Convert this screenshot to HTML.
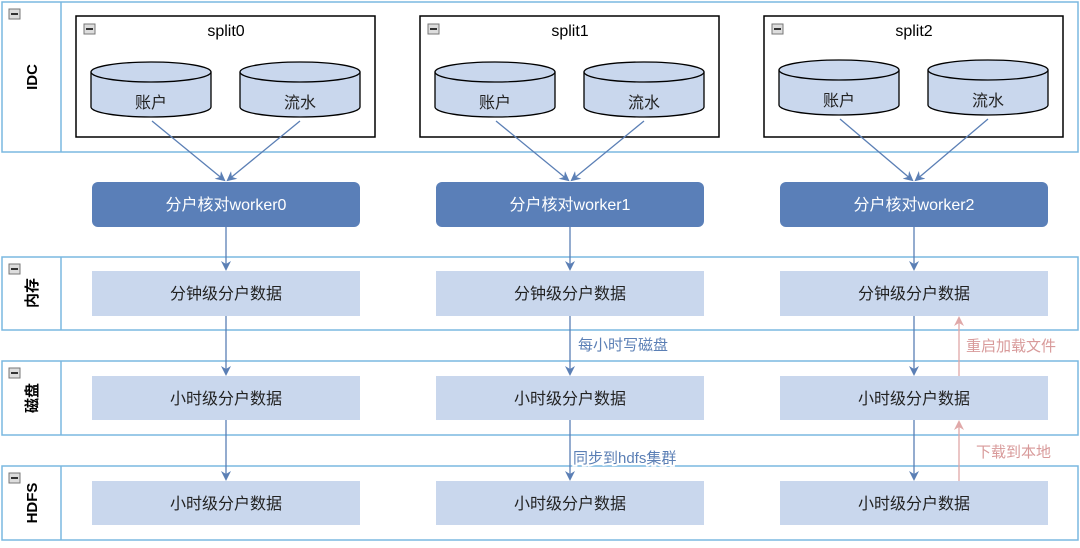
<!DOCTYPE html>
<html><head><meta charset="utf-8"><style>
body{margin:0;background:#fff;width:1080px;height:543px;overflow:hidden}
svg text{font-family:"Liberation Sans","Noto Sans CJK SC",sans-serif}
</style></head><body>
<svg width="1080" height="543" viewBox="0 0 1080 543" xmlns="http://www.w3.org/2000/svg">
<defs>
<marker id="ab" markerWidth="10" markerHeight="10" refX="8" refY="5" orient="auto" markerUnits="userSpaceOnUse"><path d="M0,0 L10,5 L0,10 L3,5 z" fill="#5b7fb5"/></marker>
<marker id="ap" markerWidth="10" markerHeight="10" refX="8" refY="5" orient="auto" markerUnits="userSpaceOnUse"><path d="M0,0 L10,5 L0,10 L3,5 z" fill="#e0a8a8"/></marker>
<g id="minus"><rect x="0" y="0" width="11" height="10" fill="#ddd" stroke="#777" stroke-width="1"/><rect x="2" y="4" width="7" height="2" fill="#333"/></g>
</defs>
<g fill="none" stroke="#7ab8e0" stroke-width="1.5">
<rect x="2" y="2" width="1076" height="150"/><line x1="61" y1="2" x2="61" y2="152"/>
<rect x="2" y="257" width="1076" height="73"/><line x1="61" y1="257" x2="61" y2="330"/>
<rect x="2" y="361" width="1076" height="74"/><line x1="61" y1="361" x2="61" y2="435"/>
<rect x="2" y="466" width="1076" height="74"/><line x1="61" y1="466" x2="61" y2="540"/>
</g>
<use href="#minus" x="9" y="9"/><use href="#minus" x="9" y="264"/><use href="#minus" x="9" y="368"/><use href="#minus" x="9" y="473"/>
<g font-weight="bold" font-size="15" fill="#000" text-anchor="middle">
<text transform="translate(37,77) rotate(-90)">IDC</text>
<text transform="translate(37,293) rotate(-90)">内存</text>
<text transform="translate(37,398) rotate(-90)">磁盘</text>
<text transform="translate(37,503) rotate(-90)">HDFS</text>
</g>
<g id="col">
<rect x="76" y="16" width="299" height="121" fill="#fff" stroke="#000" stroke-width="1.5"/>
<use href="#minus" x="84" y="24"/>
<g stroke="#000" stroke-width="1.3" fill="#c9d7ed">
<path d="M91,72 L91,107 A60,10 0 0 0 211,107 L211,72"/><ellipse cx="151" cy="72" rx="60" ry="10"/>
<path d="M240,72 L240,107 A60,10 0 0 0 360,107 L360,72"/><ellipse cx="300" cy="72" rx="60" ry="10"/>
</g>
<g font-size="16" text-anchor="middle" fill="#222">
<text x="151" y="108">账户</text><text x="300" y="108">流水</text>
</g>
<g stroke="#5b7fb5" stroke-width="1.3">
<line x1="152" y1="121" x2="224" y2="180" marker-end="url(#ab)"/>
<line x1="300" y1="121" x2="228" y2="180" marker-end="url(#ab)"/>
<line x1="226" y1="227" x2="226" y2="269" marker-end="url(#ab)"/>
<line x1="226" y1="316" x2="226" y2="374" marker-end="url(#ab)"/>
<line x1="226" y1="420" x2="226" y2="479" marker-end="url(#ab)"/>
</g>
<rect x="92" y="182" width="268" height="45" rx="6" fill="#5a7fb8"/>
<text x="226" y="210" font-size="16" text-anchor="middle" fill="#fff" data-t="w">分户核对worker0</text>
<rect x="92" y="271" width="268" height="45" fill="#c9d7ed"/>
<rect x="92" y="376" width="268" height="44" fill="#c9d7ed"/>
<rect x="92" y="481" width="268" height="44" fill="#c9d7ed"/>
<g font-size="16" text-anchor="middle" fill="#222">
<text x="226" y="299">分钟级分户数据</text><text x="226" y="404">小时级分户数据</text><text x="226" y="509">小时级分户数据</text>
</g>
</g>
<g transform="translate(344,0)">
<rect x="76" y="16" width="299" height="121" fill="#fff" stroke="#000" stroke-width="1.5"/>
<use href="#minus" x="84" y="24"/>
<g stroke="#000" stroke-width="1.3" fill="#c9d7ed">
<path d="M91,72 L91,107 A60,10 0 0 0 211,107 L211,72"/><ellipse cx="151" cy="72" rx="60" ry="10"/>
<path d="M240,72 L240,107 A60,10 0 0 0 360,107 L360,72"/><ellipse cx="300" cy="72" rx="60" ry="10"/>
</g>
<g font-size="16" text-anchor="middle" fill="#222"><text x="151" y="108">账户</text><text x="300" y="108">流水</text></g>
<g stroke="#5b7fb5" stroke-width="1.3">
<line x1="152" y1="121" x2="224" y2="180" marker-end="url(#ab)"/>
<line x1="300" y1="121" x2="228" y2="180" marker-end="url(#ab)"/>
<line x1="226" y1="227" x2="226" y2="269" marker-end="url(#ab)"/>
<line x1="226" y1="316" x2="226" y2="374" marker-end="url(#ab)"/>
<line x1="226" y1="420" x2="226" y2="479" marker-end="url(#ab)"/>
</g>
<rect x="92" y="182" width="268" height="45" rx="6" fill="#5a7fb8"/>
<rect x="92" y="271" width="268" height="45" fill="#c9d7ed"/>
<rect x="92" y="376" width="268" height="44" fill="#c9d7ed"/>
<rect x="92" y="481" width="268" height="44" fill="#c9d7ed"/>
</g>
<g transform="translate(688,0)">
<rect x="76" y="16" width="299" height="121" fill="#fff" stroke="#000" stroke-width="1.5"/>
<use href="#minus" x="84" y="24"/>
<g stroke="#000" stroke-width="1.3" fill="#c9d7ed">
<path d="M91,70 L91,105 A60,10 0 0 0 211,105 L211,70"/><ellipse cx="151" cy="70" rx="60" ry="10"/>
<path d="M240,70 L240,105 A60,10 0 0 0 360,105 L360,70"/><ellipse cx="300" cy="70" rx="60" ry="10"/>
</g>
<g font-size="16" text-anchor="middle" fill="#222"><text x="151" y="106">账户</text><text x="300" y="106">流水</text></g>
<g stroke="#5b7fb5" stroke-width="1.3">
<line x1="152" y1="119" x2="224" y2="180" marker-end="url(#ab)"/>
<line x1="300" y1="119" x2="228" y2="180" marker-end="url(#ab)"/>
<line x1="226" y1="227" x2="226" y2="269" marker-end="url(#ab)"/>
<line x1="226" y1="316" x2="226" y2="374" marker-end="url(#ab)"/>
<line x1="226" y1="420" x2="226" y2="479" marker-end="url(#ab)"/>
</g>
<rect x="92" y="182" width="268" height="45" rx="6" fill="#5a7fb8"/>
<rect x="92" y="271" width="268" height="45" fill="#c9d7ed"/>
<rect x="92" y="376" width="268" height="44" fill="#c9d7ed"/>
<rect x="92" y="481" width="268" height="44" fill="#c9d7ed"/>
</g>
<g font-size="16" text-anchor="middle" fill="#000">
<text x="226" y="36">split0</text><text x="570" y="36">split1</text><text x="914" y="36">split2</text>
</g>
<g font-size="16" text-anchor="middle" fill="#fff">
<text x="570" y="210">分户核对worker1</text><text x="914" y="210">分户核对worker2</text>
</g>
<g font-size="16" text-anchor="middle" fill="#222">
<text x="570" y="299">分钟级分户数据</text><text x="570" y="404">小时级分户数据</text><text x="570" y="509">小时级分户数据</text>
<text x="914" y="299">分钟级分户数据</text><text x="914" y="404">小时级分户数据</text><text x="914" y="509">小时级分户数据</text>
</g>
<g font-size="15" fill="#5b7fb5">
<text x="578" y="350" fill="#5b7fb5" style="paint-order:stroke" stroke="#fff" stroke-width="4">每小时写磁盘</text>
<text x="573" y="463" style="paint-order:stroke" stroke="#fff" stroke-width="4">同步到hdfs集群</text>
</g>
<g stroke="#e0a8a8" stroke-width="1.3">
<line x1="959" y1="481" x2="959" y2="422" marker-end="url(#ap)"/>
<line x1="959" y1="376" x2="959" y2="318" marker-end="url(#ap)"/>
</g>
<g font-size="15" fill="#d89a9a">
<text x="966" y="351" style="paint-order:stroke" stroke="#fff" stroke-width="4">重启加载文件</text>
<text x="976" y="457" style="paint-order:stroke" stroke="#fff" stroke-width="4">下载到本地</text>
</g>
</svg>
</body></html>
